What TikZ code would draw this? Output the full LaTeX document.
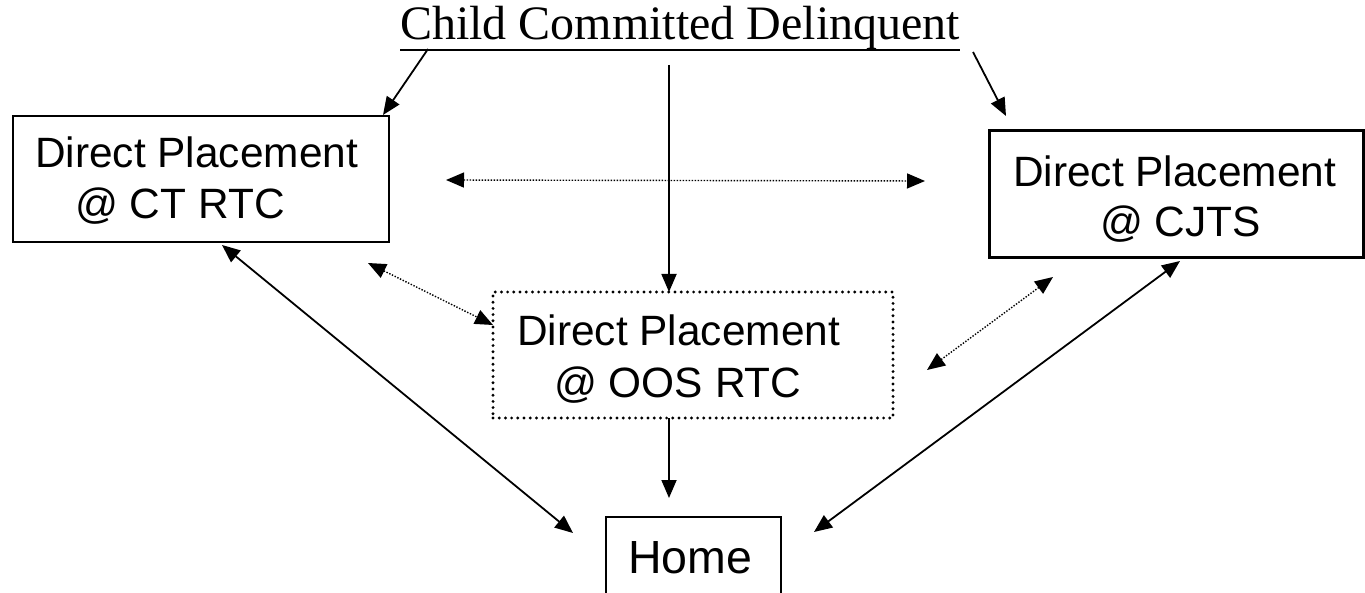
\documentclass[tikz,border=0pt]{standalone}
\usepackage{fontspec}
\setmainfont{Liberation Serif}
\newfontfamily\arialf{Liberation Sans}
\usetikzlibrary{arrows.meta}
\tikzset{tipc/.tip={Triangle[length=18pt,width=15pt]}}
\begin{document}
\begin{tikzpicture}[x=1pt,y=-1pt,
  boxn/.style={draw, line width=2pt, inner sep=0pt, outer sep=0pt},
  lbl/.style={anchor=base west, inner sep=0pt, font=\arialf\fontsize{42.4}{50}\selectfont},
  solidc/.style={line width=1.8pt},
  dotc/.style={line width=1.4pt, dash pattern=on 1.4pt off 1.6pt}
]
\useasboundingbox (0,0) rectangle (1365,593);
% title
\node[anchor=base west, inner sep=0pt, font=\fontsize{48}{56}\selectfont] (title) at (400,40) {Child Committed Delinquent};
\draw[line width=2.6pt] ([yshift=-10pt]title.base west) -- ([yshift=-10pt]title.base east);
% boxes
\node[boxn, minimum width=376pt, minimum height=126pt] (ct) at (201,179) {};
\node[boxn, line width=3pt, minimum width=374pt, minimum height=127pt] (cjts) at (1176,194.5) {};
\node[boxn, line width=3.2pt, dash pattern=on 0pt off 6.2pt, line cap=round, minimum width=400pt, minimum height=126pt] (oos) at (693,355) {};
\node[boxn, line width=1.8pt, minimum width=175pt, minimum height=83pt] (home) at (693.5,558.5) {};
% texts
\node[lbl] (ct1) at (35,168) {Direct Placement};
\node[lbl] (ct2) at (75,219) {@ CT RTC};
\node[lbl] (cj1) at (1013,187) {Direct Placement};
\node[lbl] (cj2) at (1100,237) {@ CJTS};
\node[lbl] (oo1) at (517,345) {Direct Placement};
\node[lbl] (oo2) at (554,397) {@ OOS RTC};
\node[lbl, font=\arialf\fontsize{46.5}{54}\selectfont] (ho) at (628,573) {Home};
% free connector ends
\coordinate (t1) at (428,49);   \coordinate (e1) at (383,115);
\coordinate (t2) at (973,52);   \coordinate (e2) at (1006,116);
\coordinate (t3) at (669,65);
\coordinate (h1) at (446,180);  \coordinate (h2) at (925,181);
\coordinate (d1) at (368,263);  \coordinate (d2) at (493,325);
\coordinate (d3) at (1053,277); \coordinate (d4) at (927,370);
\coordinate (s1) at (222,245);  \coordinate (s2) at (573,533);
\coordinate (s3) at (1180,261); \coordinate (s4) at (814,532);
\coordinate (v2) at (669,498);
% connectors
\draw[solidc, -{tipc}] (t1) -- (e1);
\draw[solidc, -{tipc}] (t2) -- (e2);
\draw[solidc, -{tipc}] (t3) -- (oos.north -| t3);
\draw[dotc, {tipc}-{tipc}] (h1) -- (h2);
\draw[dotc, {tipc}-{tipc}] (d1) -- (d2);
\draw[dotc, {tipc}-{tipc}] (d3) -- (d4);
\draw[solidc, {tipc}-{tipc}] (s1) -- (s2);
\draw[solidc, {tipc}-{tipc}] (s3) -- (s4);
\draw[solidc, -{tipc}] (oos.south -| v2) -- (v2);
\end{tikzpicture}
\end{document}
